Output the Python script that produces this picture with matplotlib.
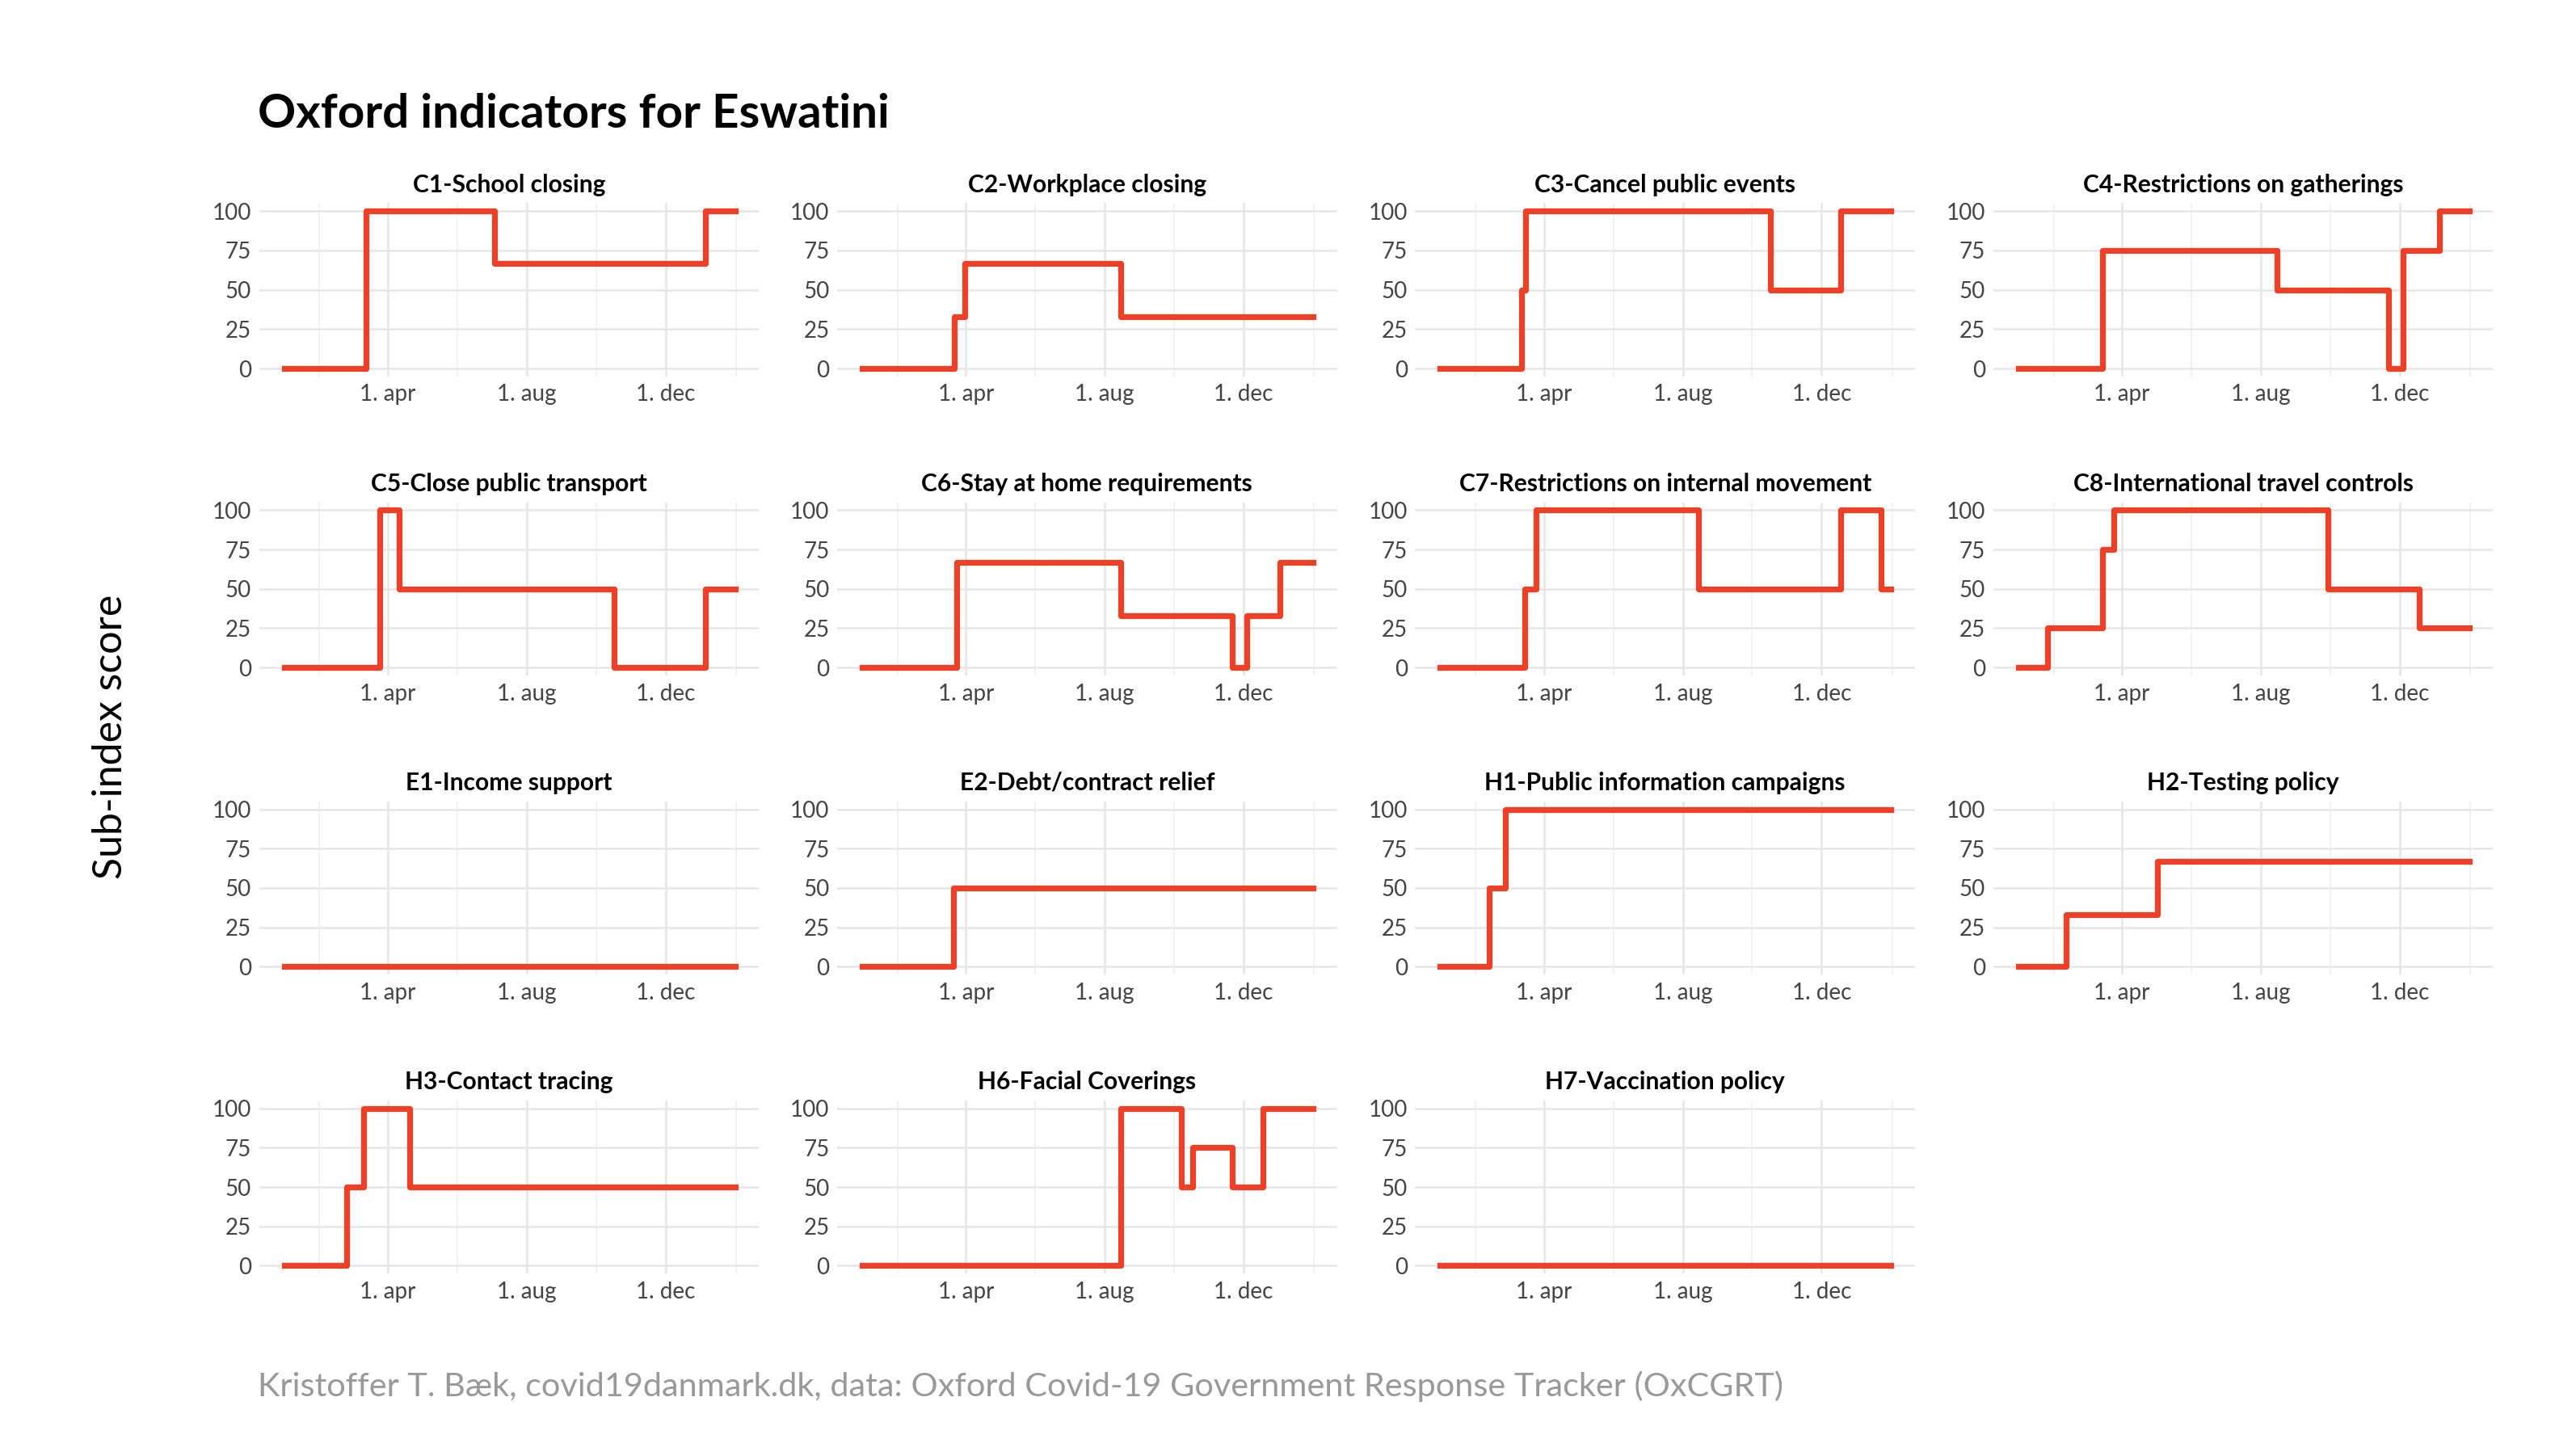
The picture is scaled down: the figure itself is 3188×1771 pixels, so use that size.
import numpy as np
import pandas as pd
import matplotlib.pyplot as plt
import matplotlib.dates as mdates

plt.rcParams['font.family'] = ['Lato', 'DejaVu Sans']

start = '2020-01-01'
end = '2021-01-31'

# change dates and the value that holds from each date on
titles = ['C1-School closing', 'C2-Workplace closing', 'C3-Cancel public events',
          'C4-Restrictions on gatherings', 'C5-Close public transport',
          'C6-Stay at home requirements', 'C7-Restrictions on internal movement',
          'C8-International travel controls', 'E1-Income support',
          'E2-Debt/contract relief', 'H1-Public information campaigns',
          'H2-Testing policy', 'H3-Contact tracing', 'H6-Facial Coverings',
          'H7-Vaccination policy']
change_dates = [
    [start, '2020-03-13', '2020-07-04', '2021-01-05'],
    [start, '2020-03-22', '2020-03-31', '2020-08-15'],
    [start, '2020-03-12', '2020-03-16', '2020-10-17', '2020-12-18'],
    [start, '2020-03-15', '2020-08-15', '2020-11-21', '2020-12-04', '2021-01-05'],
    [start, '2020-03-25', '2020-04-11', '2020-10-17', '2021-01-05'],
    [start, '2020-03-24', '2020-08-15', '2020-11-21', '2020-12-04', '2021-01-02'],
    [start, '2020-03-15', '2020-03-25', '2020-08-15', '2020-12-18', '2021-01-22'],
    [start, '2020-01-27', '2020-03-15', '2020-03-25', '2020-09-29', '2020-12-18'],
    [start],
    [start, '2020-03-21'],
    [start, '2020-02-13', '2020-02-27'],
    [start, '2020-02-12', '2020-05-02'],
    [start, '2020-02-25', '2020-03-11', '2020-04-20'],
    [start, '2020-08-15', '2020-10-07', '2020-10-17', '2020-11-21', '2020-12-18'],
    [start],
]
change_values = [
    [0, 100, 67, 100],
    [0, 33, 67, 33],
    [0, 50, 100, 50, 100],
    [0, 75, 50, 0, 75, 100],
    [0, 100, 50, 0, 50],
    [0, 67, 33, 0, 33, 67],
    [0, 50, 100, 50, 100, 50],
    [0, 25, 75, 100, 50, 25],
    [0],
    [0, 50],
    [0, 50, 100],
    [0, 33, 67],
    [0, 50, 100, 50],
    [0, 100, 50, 75, 50, 100],
    [0],
]

fig = plt.figure(figsize=(15.94, 8.855), dpi=200)
left = 0.1006
top = 0.858
ncol = 4
pw, ph = 0.194, 0.121
xpitch, ypitch = 0.2244, 0.209

for i, title in enumerate(titles):
    r, c = divmod(i, ncol)
    ax = fig.add_axes([left + c * xpitch, top - ph - r * ypitch, pw, ph])
    d = pd.to_datetime(change_dates[i] + [end])
    v = change_values[i] + [change_values[i][-1]]
    ax.step(d, v, where='post', color='#EE4027', lw=2.6)
    ax.set_xlim(pd.Timestamp('2019-12-10'), pd.Timestamp('2021-02-21'))
    ax.set_ylim(-5, 105)
    ax.set_yticks([0, 25, 50, 75, 100])
    ax.set_xticks(pd.to_datetime(['2020-04-01', '2020-08-01', '2020-12-01']))
    ax.xaxis.set_minor_locator(mdates.MonthLocator(bymonth=[2, 6, 10]))
    ax.set_xticklabels(['1. apr', '1. aug', '1. dec'])
    ax.grid(True, which='major', color='#E6E6E6', lw=0.9)
    ax.grid(True, which='minor', color='#F0F0F0', lw=0.6)
    ax.set_axisbelow(True)
    for s in ax.spines.values():
        s.set_visible(False)
    ax.tick_params(length=0, labelsize=10, colors='#444444', which='both')
    ax.set_title(title, fontsize=10.8, fontweight='bold', pad=5)

fig.text(0.1, 0.911, 'Oxford indicators for Eswatini', fontsize=21, fontweight='bold')
fig.text(0.043, 0.485, 'Sub-index score', rotation=90, fontsize=18, va='center', ha='center')
fig.text(0.1, 0.0245, 'Kristoffer T. Bæk, covid19danmark.dk, data: Oxford Covid-19 Government Response Tracker (OxCGRT)',
         fontsize=14.9, color='#999999')

fig.savefig('out.png', dpi=200, facecolor='white')
